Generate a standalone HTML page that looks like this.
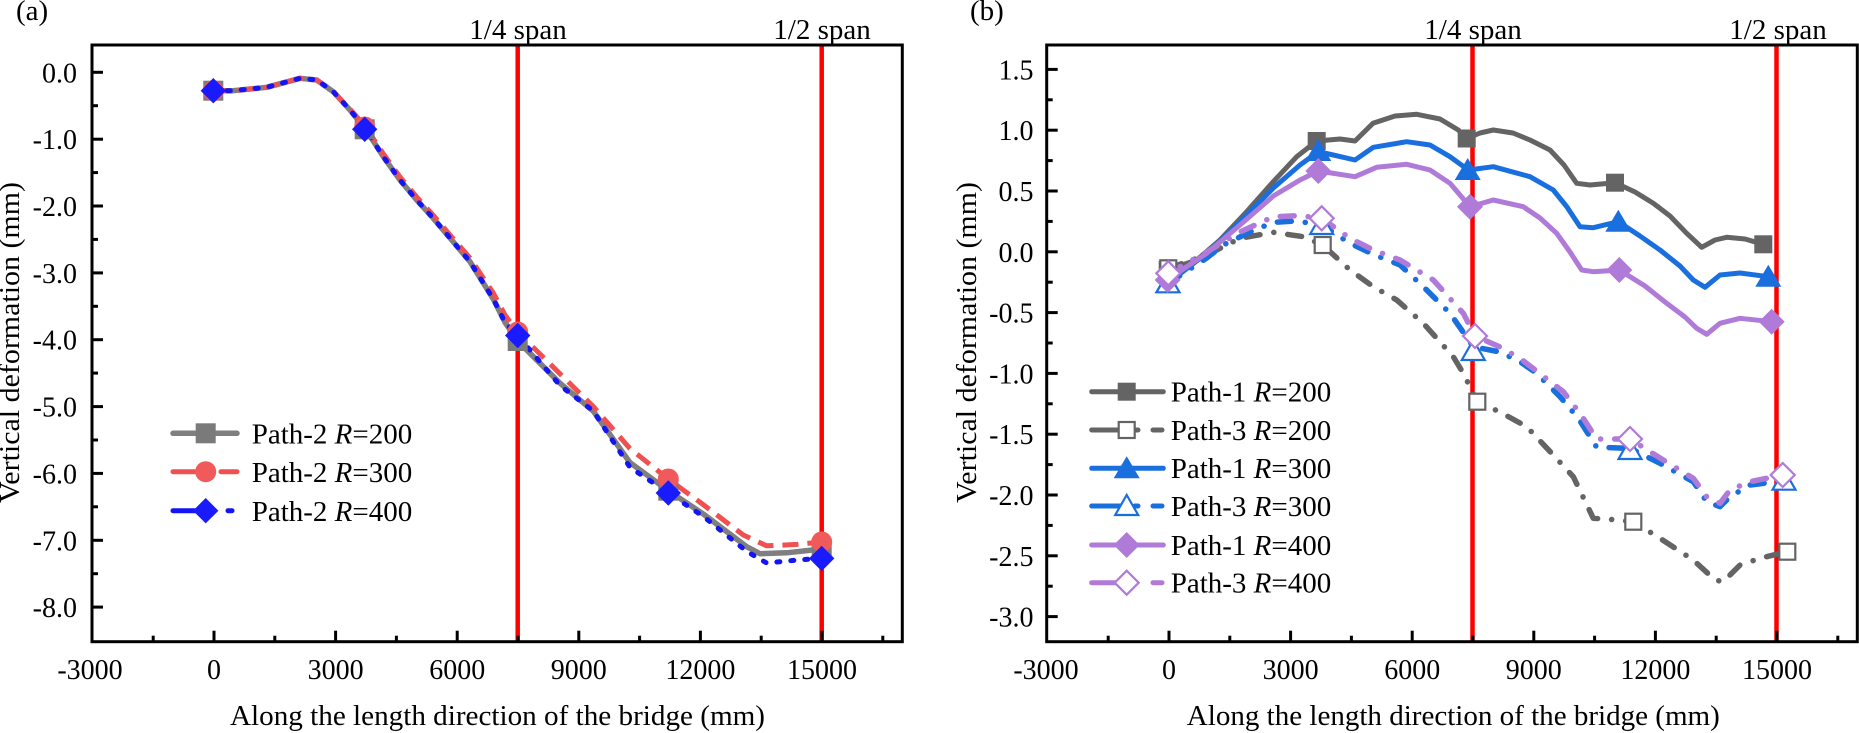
<!DOCTYPE html>
<html><head><meta charset="utf-8"><style>
html,body{margin:0;padding:0;background:#fff;}
svg{display:block;}
svg text, svg tspan{font-family:"Liberation Serif","Times New Roman",serif;}
</style></head><body>
<svg width="1859" height="733" viewBox="0 0 1859 733" xmlns="http://www.w3.org/2000/svg" font-family="Liberation Serif, serif">
<rect width="1859" height="733" fill="#fff"/>

<!-- ================= PANEL (a) ================= -->
<text x="16" y="20" font-size="29" font-family="Liberation Serif, serif">(a)</text>
<text x="518" y="39" font-size="29" text-anchor="middle" font-family="Liberation Serif, serif">1/4 span</text>
<text x="822" y="39" font-size="29" text-anchor="middle" font-family="Liberation Serif, serif">1/2 span</text>

<line x1="517.7" y1="45" x2="517.7" y2="641" stroke="#ff0000" stroke-width="4.5"/>
<line x1="821.7" y1="45" x2="821.7" y2="641" stroke="#ff0000" stroke-width="4.5"/>

<polyline fill="none" stroke="#7f7f7f" stroke-width="5.5" stroke-linejoin="round" points="213.3,90.7 233,90.7 266.7,87.3 300,78.3 316.7,80 333.3,91.7 350,110 365.7,129.3 383.3,156.7 400,180 416.7,200 433.3,218.3 450,238 470,261.7 493.3,299 505,322.4 517.7,341 560,383.2 593.3,411.2 630,462.6 668.3,490.7 703.3,514 746.7,546.7 760,553.7 786.7,552.8 821.7,549"/>
<polyline fill="none" stroke="#f05050" stroke-width="5" stroke-dasharray="16 9" stroke-linejoin="round" points="213.3,90.7 233,90.7 266.7,87.3 300,78.3 316.7,80 333.3,91.7 350,109 365.7,127 383.3,153.7 400,177 416.7,197 433.3,215.3 450,235 470,258 493.3,293 505,315 517.7,332 560,373.8 593.3,406.5 630,448.6 668.3,479 703.3,504.7 743.3,535 766.7,545.8 796.7,544.4 821.7,542"/>
<polyline fill="none" stroke="#1414f5" stroke-width="5" stroke-dasharray="3 11" stroke-linecap="round" stroke-linejoin="round" points="213.3,90.7 233,90.7 266.7,87.3 300,78.3 316.7,80 333.3,91.7 350,110 365.7,129.3 383.3,156.7 400,180 416.7,200 433.3,218.3 450,238 470,261.7 493.3,299 505,322.4 517.7,335.5 560,385.5 593.3,411 630,467.3 668.3,493 703.3,516.4 746.7,551.4 766.7,563 800,559.8 821.7,558.4"/>

<g fill="#7a7a7a">
<rect x="203.3" y="80.7" width="20" height="20"/>
<rect x="354.7" y="119.3" width="20" height="20"/>
<rect x="507.7" y="331" width="20" height="20"/>
<rect x="658.3" y="480.7" width="20" height="20"/>
<rect x="811.7" y="539" width="20" height="20"/>
</g>
<g fill="#f05a5a">
<circle cx="213.3" cy="90.7" r="10.5"/>
<circle cx="364.7" cy="127" r="10.5"/>
<circle cx="517.7" cy="332" r="10.5"/>
<circle cx="668.3" cy="479" r="10.5"/>
<circle cx="821.7" cy="542" r="10.5"/>
</g>
<g fill="#1a1aff">
<polygon points="213.3,78 226,90.7 213.3,103.4 200.6,90.7"/>
<polygon points="364.7,116.6 377.4,129.3 364.7,142 352,129.3"/>
<polygon points="517.7,322.8 530.4,335.5 517.7,348.2 505,335.5"/>
<polygon points="668.3,480.3 681,493 668.3,505.7 655.6,493"/>
<polygon points="821.7,545.7 834.4,558.4 821.7,571.1 809,558.4"/>
</g>

<line x1="173" y1="433.3" x2="237" y2="433.3" stroke="#7f7f7f" stroke-width="5.5" stroke-linecap="round"/>
<rect x="195.7" y="423.3" width="20" height="20" fill="#7a7a7a"/>
<line x1="173" y1="471.7" x2="198" y2="471.7" stroke="#f05050" stroke-width="5" stroke-linecap="round"/>
<line x1="221" y1="471.7" x2="237" y2="471.7" stroke="#f05050" stroke-width="5" stroke-linecap="round"/>
<circle cx="205.7" cy="471.7" r="10.5" fill="#f05a5a"/>
<line x1="173" y1="510.7" x2="198" y2="510.7" stroke="#1414f5" stroke-width="5" stroke-linecap="round"/>
<line x1="228" y1="510.7" x2="232" y2="510.7" stroke="#1414f5" stroke-width="5" stroke-linecap="round"/>
<polygon points="205.7,498 218.4,510.7 205.7,523.4 193,510.7" fill="#1a1aff"/>
<g font-size="29" font-family="Liberation Serif, serif">
<text x="251.7" y="443.5">Path-2 <tspan font-style="italic">R</tspan>=200</text>
<text x="251.7" y="482">Path-2 <tspan font-style="italic">R</tspan>=300</text>
<text x="251.7" y="521">Path-2 <tspan font-style="italic">R</tspan>=400</text>
</g>

<rect x="92" y="45" width="810.3" height="596.7" fill="none" stroke="#000" stroke-width="3"/>
<g stroke="#000" stroke-width="3">
<line x1="92" y1="72.3" x2="103" y2="72.3"/>
<line x1="92" y1="139.2" x2="103" y2="139.2"/>
<line x1="92" y1="206" x2="103" y2="206"/>
<line x1="92" y1="272.9" x2="103" y2="272.9"/>
<line x1="92" y1="339.7" x2="103" y2="339.7"/>
<line x1="92" y1="406.6" x2="103" y2="406.6"/>
<line x1="92" y1="473.4" x2="103" y2="473.4"/>
<line x1="92" y1="540.3" x2="103" y2="540.3"/>
<line x1="92" y1="607.1" x2="103" y2="607.1"/>
<line x1="92" y1="105.7" x2="98" y2="105.7"/>
<line x1="92" y1="172.6" x2="98" y2="172.6"/>
<line x1="92" y1="239.4" x2="98" y2="239.4"/>
<line x1="92" y1="306.3" x2="98" y2="306.3"/>
<line x1="92" y1="373.1" x2="98" y2="373.1"/>
<line x1="92" y1="440" x2="98" y2="440"/>
<line x1="92" y1="506.8" x2="98" y2="506.8"/>
<line x1="92" y1="573.7" x2="98" y2="573.7"/>
<line x1="214" y1="641.7" x2="214" y2="630.7"/>
<line x1="335.6" y1="641.7" x2="335.6" y2="630.7"/>
<line x1="457.2" y1="641.7" x2="457.2" y2="630.7"/>
<line x1="578.8" y1="641.7" x2="578.8" y2="630.7"/>
<line x1="700.4" y1="641.7" x2="700.4" y2="630.7"/>
<line x1="822" y1="641.7" x2="822" y2="630.7"/>
<line x1="153.2" y1="641.7" x2="153.2" y2="635.7"/>
<line x1="274.8" y1="641.7" x2="274.8" y2="635.7"/>
<line x1="396.4" y1="641.7" x2="396.4" y2="635.7"/>
<line x1="518" y1="641.7" x2="518" y2="635.7"/>
<line x1="639.6" y1="641.7" x2="639.6" y2="635.7"/>
<line x1="761.2" y1="641.7" x2="761.2" y2="635.7"/>
<line x1="882.8" y1="641.7" x2="882.8" y2="635.7"/>
</g>
<g font-size="28" text-anchor="end" font-family="Liberation Serif, serif">
<text x="77" y="82.3">0.0</text>
<text x="77" y="149.2">-1.0</text>
<text x="77" y="216">-2.0</text>
<text x="77" y="282.9">-3.0</text>
<text x="77" y="349.7">-4.0</text>
<text x="77" y="416.6">-5.0</text>
<text x="77" y="483.4">-6.0</text>
<text x="77" y="550.3">-7.0</text>
<text x="77" y="617.1">-8.0</text>
</g>
<g font-size="28" text-anchor="middle" font-family="Liberation Serif, serif">
<text x="90" y="679">-3000</text>
<text x="214" y="679">0</text>
<text x="335.6" y="679">3000</text>
<text x="457.2" y="679">6000</text>
<text x="578.8" y="679">9000</text>
<text x="700.4" y="679">12000</text>
<text x="822" y="679">15000</text>
</g>
<text x="497.5" y="725" font-size="29" text-anchor="middle" font-family="Liberation Serif, serif" textLength="535" lengthAdjust="spacingAndGlyphs">Along the length direction of the bridge (mm)</text>
<text transform="translate(19,342.5) rotate(-90)" font-size="29" text-anchor="middle" font-family="Liberation Serif, serif" textLength="321" lengthAdjust="spacingAndGlyphs">Vertical deformation (mm)</text>

<!-- ================= PANEL (b) ================= -->
<text x="970" y="20" font-size="29" font-family="Liberation Serif, serif">(b)</text>
<text x="1473" y="39" font-size="29" text-anchor="middle" font-family="Liberation Serif, serif">1/4 span</text>
<text x="1778" y="39" font-size="29" text-anchor="middle" font-family="Liberation Serif, serif">1/2 span</text>

<line x1="1472.5" y1="45" x2="1472.5" y2="641" stroke="#ff0000" stroke-width="4.5"/>
<line x1="1776.5" y1="45" x2="1776.5" y2="641" stroke="#ff0000" stroke-width="4.5"/>

<polyline fill="none" stroke="#646464" stroke-width="5" stroke-linejoin="round" points="1167.7,270 1196.7,260 1220,240 1246.7,211.7 1273.3,181.7 1296.7,156.7 1316.7,141 1340,139 1355,141 1373,123.3 1395,116 1416.7,114.3 1440,119 1458.3,130 1466.7,138.5 1480,133 1493.3,130 1513,133 1530,140 1550,150 1564,165 1576.7,183.3 1590,185 1615,182.7 1635,192 1653.3,203.3 1670,216 1686.7,233.3 1701.7,247.3 1715,240 1726.7,237.3 1745,239 1763.3,244.3"/>
<polyline fill="none" stroke="#646464" stroke-width="5.5" stroke-dasharray="14 14 0.1 14" stroke-linecap="round" stroke-linejoin="round" points="1168.3,268.3 1206.7,255 1240,238.3 1273.3,232.3 1303.3,236.7 1322.7,245 1350,270 1373.3,286.7 1396.7,300 1423.3,323.3 1453.3,356.7 1463.3,373.3 1477.3,401.7 1500,412 1526.7,426.7 1553.3,455 1573.3,476.7 1593.3,518.3 1610,519.3 1633.3,521.7 1660,538.3 1693.3,560 1715,580 1723.3,581.7 1740,565 1760,558.3 1787.3,551.7"/>
<polyline fill="none" stroke="#1a6fdf" stroke-width="5" stroke-linejoin="round" points="1167.7,283.3 1206.7,253.3 1240,222 1273.3,188 1300,165 1318.3,151.7 1333.3,155 1355,160 1373.3,147.3 1406.7,141.7 1430,145 1450,156.7 1468.3,170 1493.3,166.7 1530,176.7 1553.3,190 1567,207 1580,226.7 1593.3,227.7 1618.3,221.7 1640,236 1660,250 1680,266 1693.3,280 1705,287.3 1720,275 1740,273 1768.3,276.7"/>
<polyline fill="none" stroke="#1a6fdf" stroke-width="5.5" stroke-dasharray="14 14 0.1 14" stroke-linecap="round" stroke-linejoin="round" points="1168,283.3 1206.7,258 1223.3,245 1250,232 1273.3,222.3 1296.7,221 1321.7,225 1350,243.3 1373.3,254.3 1400,265 1423.3,286.7 1450,313.3 1473.3,346.7 1500,352 1520,361.7 1536.7,373.3 1560,396.7 1578.3,418.3 1596.7,447.3 1630,448.3 1660,463.3 1693.3,481.7 1706.7,501.7 1720,506.7 1730,496.7 1750,485 1784,480.7"/>
<polyline fill="none" stroke="#b07ad8" stroke-width="5" stroke-linejoin="round" points="1167.7,280 1186.7,266.7 1206.7,253.3 1240,225 1273.3,196 1300,180 1318.3,171 1355,176.7 1376.7,167.3 1406.7,164.3 1430,170 1450,183.3 1470,206.7 1493.3,200 1523.3,206.7 1540,218 1556.7,233.3 1570,252 1581.7,270 1593.3,271.7 1619.3,270 1645,286 1666.7,303.3 1685,317 1696.7,328.3 1706.7,334.3 1720,323.3 1740,318.3 1771.7,321.7"/>
<polyline fill="none" stroke="#b07ad8" stroke-width="5.5" stroke-dasharray="14 14 0.1 14" stroke-linecap="round" stroke-linejoin="round" points="1168.3,273.3 1206.7,252 1240,232 1273.3,216.7 1300,215.7 1321.7,218.3 1350,238.3 1373.3,250 1400,260 1433.3,280 1463.3,313.3 1475,336 1500,347 1520,358.3 1563.3,391.7 1580,413.3 1596.7,439 1630,439 1660,458 1693.3,478.3 1706.7,496.7 1720,503.3 1730,490 1750,481.7 1782.7,475"/>

<g fill="#646464">
<rect x="1158.7" y="261" width="18" height="18"/>
<rect x="1307.7" y="132" width="18" height="18"/>
<rect x="1457.7" y="129.5" width="18" height="18"/>
<rect x="1606" y="173.7" width="18" height="18"/>
<rect x="1754.3" y="235.3" width="18" height="18"/>
</g>
<g fill="#fff" stroke="#646464" stroke-width="2.2">
<rect x="1160.3" y="260.3" width="16" height="16"/>
<rect x="1314.7" y="237" width="16" height="16"/>
<rect x="1469.3" y="393.7" width="16" height="16"/>
<rect x="1625.3" y="513.7" width="16" height="16"/>
<rect x="1779.3" y="543.7" width="16" height="16"/>
</g>
<g fill="#1a6fdf">
<polygon points="1167.7,271 1180.7,293 1154.7,293"/>
<polygon points="1318.3,139 1331.3,161 1305.3,161"/>
<polygon points="1467.7,158 1480.7,180 1454.7,180"/>
<polygon points="1618.3,209.7 1631.3,231.7 1605.3,231.7"/>
<polygon points="1768.3,264.7 1781.3,286.7 1755.3,286.7"/>
</g>
<g fill="#fff" stroke="#1a6fdf" stroke-width="2.2">
<polygon points="1168,272.3 1179.5,292.3 1156.5,292.3"/>
<polygon points="1321.7,214 1333.2,234 1310.2,234"/>
<polygon points="1473.3,340 1484.8,360 1461.8,360"/>
<polygon points="1630,439 1641.5,459 1618.5,459"/>
<polygon points="1784,469.7 1795.5,489.7 1772.5,489.7"/>
</g>
<g fill="#b07ad8">
<polygon points="1167.7,267 1180.7,280 1167.7,293 1154.7,280"/>
<polygon points="1318.3,158 1331.3,171 1318.3,184 1305.3,171"/>
<polygon points="1470,193.7 1483,206.7 1470,219.7 1457,206.7"/>
<polygon points="1619.3,257 1632.3,270 1619.3,283 1606.3,270"/>
<polygon points="1771.7,308.7 1784.7,321.7 1771.7,334.7 1758.7,321.7"/>
</g>
<g fill="#fff" stroke="#b07ad8" stroke-width="2.2">
<polygon points="1168.3,261.3 1180.3,273.3 1168.3,285.3 1156.3,273.3"/>
<polygon points="1321.7,206.3 1333.7,218.3 1321.7,230.3 1309.7,218.3"/>
<polygon points="1475,324 1487,336 1475,348 1463,336"/>
<polygon points="1630,427 1642,439 1630,451 1618,439"/>
<polygon points="1782.7,463 1794.7,475 1782.7,487 1770.7,475"/>
</g>

<g stroke-linecap="round">
<line x1="1091.7" y1="391.7" x2="1163.3" y2="391.7" stroke="#646464" stroke-width="5"/>
<line x1="1091.7" y1="430" x2="1122" y2="430" stroke="#646464" stroke-width="5"/>
<line x1="1135" y1="430" x2="1138" y2="430" stroke="#646464" stroke-width="5"/>
<line x1="1153" y1="430" x2="1162" y2="430" stroke="#646464" stroke-width="5"/>
<line x1="1091.7" y1="468.3" x2="1163.3" y2="468.3" stroke="#1a6fdf" stroke-width="5"/>
<line x1="1091.7" y1="506" x2="1122" y2="506" stroke="#1a6fdf" stroke-width="5"/>
<line x1="1135" y1="506" x2="1138" y2="506" stroke="#1a6fdf" stroke-width="5"/>
<line x1="1153" y1="506" x2="1162" y2="506" stroke="#1a6fdf" stroke-width="5"/>
<line x1="1091.7" y1="545" x2="1163.3" y2="545" stroke="#b07ad8" stroke-width="5"/>
<line x1="1091.7" y1="582.7" x2="1122" y2="582.7" stroke="#b07ad8" stroke-width="5"/>
<line x1="1153" y1="582.7" x2="1162" y2="582.7" stroke="#b07ad8" stroke-width="5"/>
</g>
<rect x="1117.7" y="382.7" width="18" height="18" fill="#646464"/>
<rect x="1118.7" y="422" width="16" height="16" fill="#fff" stroke="#646464" stroke-width="2.2"/>
<polygon points="1126.7,456.3 1139.7,478.3 1113.7,478.3" fill="#1a6fdf"/>
<polygon points="1126.7,495 1138.2,515 1115.2,515" fill="#fff" stroke="#1a6fdf" stroke-width="2.2"/>
<polygon points="1126.7,532 1139.7,545 1126.7,558 1113.7,545" fill="#b07ad8"/>
<polygon points="1126.7,570.7 1138.7,582.7 1126.7,594.7 1114.7,582.7" fill="#fff" stroke="#b07ad8" stroke-width="2.2"/>
<g font-size="29" font-family="Liberation Serif, serif">
<text x="1170.7" y="401.5">Path-1 <tspan font-style="italic">R</tspan>=200</text>
<text x="1170.7" y="439.8">Path-3 <tspan font-style="italic">R</tspan>=200</text>
<text x="1170.7" y="478.1">Path-1 <tspan font-style="italic">R</tspan>=300</text>
<text x="1170.7" y="515.8">Path-3 <tspan font-style="italic">R</tspan>=300</text>
<text x="1170.7" y="554.8">Path-1 <tspan font-style="italic">R</tspan>=400</text>
<text x="1170.7" y="592.5">Path-3 <tspan font-style="italic">R</tspan>=400</text>
</g>

<rect x="1046.7" y="45" width="810.6" height="596.7" fill="none" stroke="#000" stroke-width="3"/>
<g stroke="#000" stroke-width="3">
<line x1="1046.7" y1="69.4" x2="1057.7" y2="69.4"/>
<line x1="1046.7" y1="130.2" x2="1057.7" y2="130.2"/>
<line x1="1046.7" y1="191" x2="1057.7" y2="191"/>
<line x1="1046.7" y1="251.8" x2="1057.7" y2="251.8"/>
<line x1="1046.7" y1="312.6" x2="1057.7" y2="312.6"/>
<line x1="1046.7" y1="373.4" x2="1057.7" y2="373.4"/>
<line x1="1046.7" y1="434.2" x2="1057.7" y2="434.2"/>
<line x1="1046.7" y1="495" x2="1057.7" y2="495"/>
<line x1="1046.7" y1="555.8" x2="1057.7" y2="555.8"/>
<line x1="1046.7" y1="616.6" x2="1057.7" y2="616.6"/>
<line x1="1046.7" y1="99.8" x2="1052.7" y2="99.8"/>
<line x1="1046.7" y1="160.6" x2="1052.7" y2="160.6"/>
<line x1="1046.7" y1="221.4" x2="1052.7" y2="221.4"/>
<line x1="1046.7" y1="282.2" x2="1052.7" y2="282.2"/>
<line x1="1046.7" y1="343" x2="1052.7" y2="343"/>
<line x1="1046.7" y1="403.8" x2="1052.7" y2="403.8"/>
<line x1="1046.7" y1="464.6" x2="1052.7" y2="464.6"/>
<line x1="1046.7" y1="525.4" x2="1052.7" y2="525.4"/>
<line x1="1046.7" y1="586.2" x2="1052.7" y2="586.2"/>
<line x1="1169" y1="641.7" x2="1169" y2="630.7"/>
<line x1="1290.6" y1="641.7" x2="1290.6" y2="630.7"/>
<line x1="1412.2" y1="641.7" x2="1412.2" y2="630.7"/>
<line x1="1533.8" y1="641.7" x2="1533.8" y2="630.7"/>
<line x1="1655.4" y1="641.7" x2="1655.4" y2="630.7"/>
<line x1="1777" y1="641.7" x2="1777" y2="630.7"/>
<line x1="1108.2" y1="641.7" x2="1108.2" y2="635.7"/>
<line x1="1229.8" y1="641.7" x2="1229.8" y2="635.7"/>
<line x1="1351.4" y1="641.7" x2="1351.4" y2="635.7"/>
<line x1="1473" y1="641.7" x2="1473" y2="635.7"/>
<line x1="1594.6" y1="641.7" x2="1594.6" y2="635.7"/>
<line x1="1716.2" y1="641.7" x2="1716.2" y2="635.7"/>
<line x1="1837.8" y1="641.7" x2="1837.8" y2="635.7"/>
</g>
<g font-size="28" text-anchor="end" font-family="Liberation Serif, serif">
<text x="1033.5" y="79.4">1.5</text>
<text x="1033.5" y="140.2">1.0</text>
<text x="1033.5" y="201">0.5</text>
<text x="1033.5" y="261.8">0.0</text>
<text x="1033.5" y="322.6">-0.5</text>
<text x="1033.5" y="383.4">-1.0</text>
<text x="1033.5" y="444.2">-1.5</text>
<text x="1033.5" y="505">-2.0</text>
<text x="1033.5" y="565.8">-2.5</text>
<text x="1033.5" y="626.6">-3.0</text>
</g>
<g font-size="28" text-anchor="middle" font-family="Liberation Serif, serif">
<text x="1046" y="679">-3000</text>
<text x="1169" y="679">0</text>
<text x="1290.6" y="679">3000</text>
<text x="1412.2" y="679">6000</text>
<text x="1533.8" y="679">9000</text>
<text x="1655.4" y="679">12000</text>
<text x="1777" y="679">15000</text>
</g>
<text x="1453.3" y="725" font-size="29" text-anchor="middle" font-family="Liberation Serif, serif" textLength="533" lengthAdjust="spacingAndGlyphs">Along the length direction of the bridge (mm)</text>
<text transform="translate(976,342.5) rotate(-90)" font-size="29" text-anchor="middle" font-family="Liberation Serif, serif" textLength="321" lengthAdjust="spacingAndGlyphs">Vertical deformation (mm)</text>
</svg>
</body></html>
